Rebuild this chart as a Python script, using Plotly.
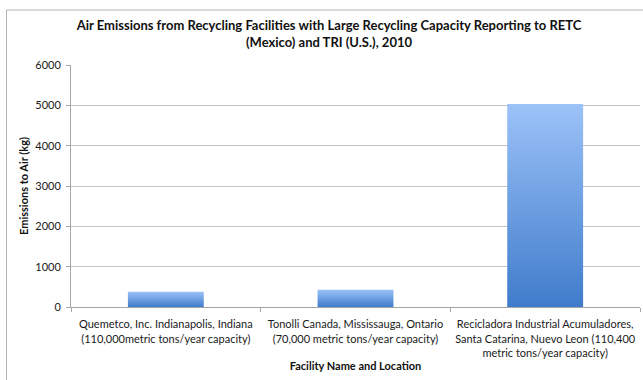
import plotly.graph_objects as go

categories = [
    "Quemetco, Inc. Indianapolis, Indiana<br>(110,000metric tons/year capacity)",
    "Tonolli Canada, Mississauga, Ontario<br>(70,000 metric tons/year capacity)",
    "Recicladora Industrial Acumuladores,<br>Santa Catarina, Nuevo Leon (110,400<br>metric tons/year capacity)",
]
emissions_kg = [380, 430, 5030]
y_ticks = [0, 1000, 2000, 3000, 4000, 5000, 6000]

title_text = ("Air Emissions from Recycling Facilities with Large Recycling Capacity Reporting to RETC"
              "<br>(Mexico) and TRI (U.S.), 2010")

FONT = "Lato"
bar_w = 0.4

fig = go.Figure()
for i, v in enumerate(emissions_kg):
    xs = [i - bar_w / 2, i + bar_w / 2, i + bar_w / 2, i - bar_w / 2, i - bar_w / 2]
    ys = [0, 0, v, v, 0]
    fig.add_trace(go.Scatter(
        x=xs, y=ys, mode="lines", fill="toself",
        line=dict(width=0, color="rgba(0,0,0,0)"),
        fillgradient=dict(type="vertical",
                          colorscale=[[0, "#3F7CCB"], [1, "#9CC2F8"]]),
        hoverinfo="skip", showlegend=False,
    ))

fig.update_layout(
    width=643, height=380,
    margin=dict(l=71, r=3, t=65, b=73),
    paper_bgcolor="white", plot_bgcolor="white",
    font=dict(family=FONT, size=11, color="#1a1a1a"),
    title=dict(text=title_text, x=329 / 643, xanchor="center", xref="container",
               y=1 - 30 / 380, yanchor="top", yref="container",
               font=dict(family=FONT, size=13, color="#111111", weight="bold")),
    showlegend=False,
    shapes=[dict(type="rect", xref="paper", yref="paper",
                 x0=(6.5 - 71) / 569, x1=1.3, y0=-1.0, y1=(307 - 10) / 242,
                 line=dict(color="#B4B4B4", width=1), fillcolor="rgba(0,0,0,0)",
                 layer="below")],
)
fig.update_xaxes(
    range=[-0.5, 2.5], tickvals=[0, 1, 2], ticktext=categories,
    ticks="", showgrid=False, zeroline=False,
    showline=True, linecolor="#A6A6A6", linewidth=1,
    ticklabelstandoff=7,
    tickfont=dict(family=FONT, size=11, color="#1a1a1a"),
    minor=dict(tickvals=[-0.5, 0.5, 1.5, 2.5], ticks="outside", ticklen=4,
               tickcolor="#A6A6A6", showgrid=False),
    title=dict(text="Facility Name and Location", standoff=4,
               font=dict(family=FONT, size=11, color="#111111", weight="bold")),
    fixedrange=True,
)
fig.update_yaxes(
    range=[0, 6000], tickvals=y_ticks,
    ticks="outside", ticklen=4, tickcolor="#A6A6A6",
    showgrid=True, gridcolor="#C4C4C4", gridwidth=1, zeroline=False,
    showline=True, linecolor="#A6A6A6", linewidth=1,
    ticklabelstandoff=3,
    tickfont=dict(family=FONT, size=11, color="#1a1a1a"),
    title=dict(text="Emissions to Air (kg)", standoff=4,
               font=dict(family=FONT, size=11, color="#111111", weight="bold")),
    fixedrange=True,
)

fig.write_html("out.html")
